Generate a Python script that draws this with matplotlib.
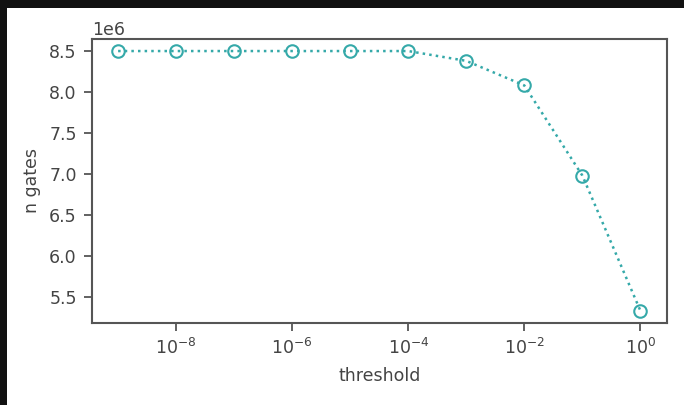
import numpy as np
import matplotlib.pyplot as plt
from matplotlib.patches import Rectangle
from matplotlib.ticker import NullLocator

thresholds = [1e-9, 1e-8, 1e-7, 1e-6, 1e-5, 1e-4, 1e-3, 1e-2, 1e-1, 1e0]
n_gates = [8.50e6, 8.50e6, 8.50e6, 8.50e6, 8.50e6, 8.50e6, 8.38e6, 8.08e6, 6.98e6, 5.33e6]

COLOR = '#35a9a9'
FS = 12.5

fig = plt.figure(figsize=(6.84, 4.05), dpi=100, facecolor='#111111')
# white screenshot area inside the dark frame
fig.patches.append(Rectangle((7 / 684, 0), 1 - 7 / 684, (405 - 8) / 405,
                             transform=fig.transFigure, facecolor='white',
                             edgecolor='none', zorder=-10))

ax = fig.add_axes([92 / 684, (405 - 323) / 405, (666.5 - 92) / 684, (323 - 39) / 405])
ax.plot(thresholds, n_gates, linestyle=':', linewidth=1.8, color=COLOR,
        marker='o', markersize=9, markerfacecolor='none',
        markeredgecolor=COLOR, markeredgewidth=1.5)
ax.set_xscale('log')
ax.xaxis.set_minor_locator(NullLocator())
ax.set_ylim(5.18e6, 8.647e6)
ax.set_yticks([5.5e6, 6.0e6, 6.5e6, 7.0e6, 7.5e6, 8.0e6, 8.5e6])
ax.set_xticks([1e-8, 1e-6, 1e-4, 1e-2, 1e0])

txt = '#444444'
ax.tick_params(labelsize=FS, colors='#555555', labelcolor=txt, length=6, width=1.3, pad=5)
ax.yaxis.get_offset_text().set_fontsize(FS)
ax.yaxis.get_offset_text().set_color(txt)
ax.set_xlabel('threshold', fontsize=FS, color=txt, labelpad=6)
ax.set_ylabel('n gates', fontsize=FS, color=txt, labelpad=6)
for s in ax.spines.values():
    s.set_color('#555555')
    s.set_linewidth(1.5)

fig.savefig('out.png', dpi=100, facecolor=fig.get_facecolor())
